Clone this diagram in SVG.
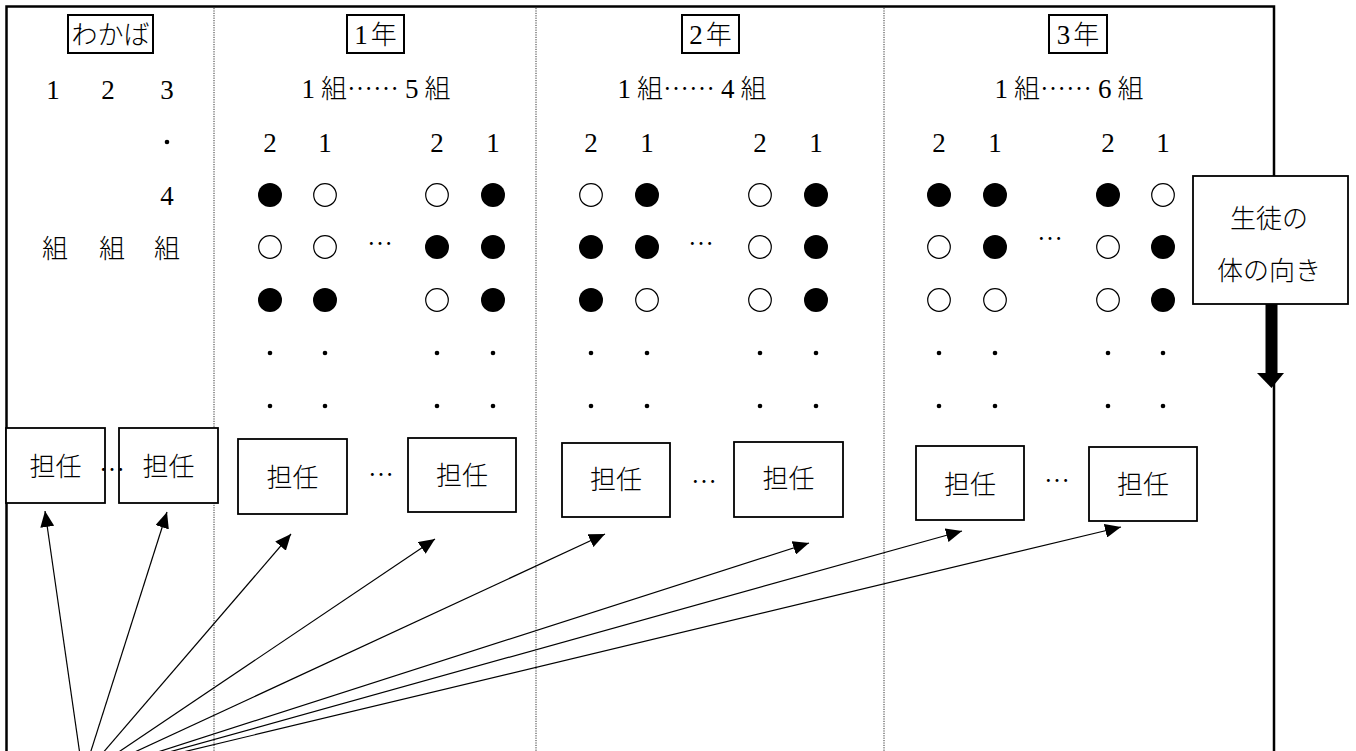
<svg xmlns="http://www.w3.org/2000/svg" width="1356" height="751" viewBox="0 0 1356 751">
<style>
.j{font-family:"Noto Sans CJK JP","Noto Sans",sans-serif;font-size:26px;font-weight:300;fill:#000}
.d{font-family:"Liberation Serif",serif;font-size:27px;fill:#000}
.box{fill:#fff;stroke:#000;stroke-width:1.8}
.hbox{fill:#fff;stroke:#000;stroke-width:2}
.frame{stroke:#000;stroke-width:2.5;fill:none}
.sep{stroke:#333;stroke-width:1;stroke-dasharray:1.2 1.2;fill:none}
.f{fill:#000}
.o{fill:#fff;stroke:#000;stroke-width:1.2}
.arr{stroke:#000;stroke-width:1.2;fill:none;marker-end:url(#ah)}
</style>
<defs>
<marker id="ah" viewBox="0 0 16 14" markerWidth="16" markerHeight="14" refX="16" refY="7" orient="auto" markerUnits="userSpaceOnUse">
<path d="M0,0 L16,7 L0,14 Z" fill="#000"/>
</marker>
</defs>
<rect width="1356" height="751" fill="#fff"/>
<g id="frame">
<path class="frame" d="M6.5,751 V6.5 H1274 V751"/>
<line class="sep" x1="214" y1="8" x2="214" y2="751"/>
<line class="sep" x1="536" y1="8" x2="536" y2="751"/>
<line class="sep" x1="884" y1="8" x2="884" y2="751"/>
</g>
<g id="headers">
<g id="h-wakaba"><rect class="hbox" x="68" y="15" width="85" height="38"/><text class="j" x="110.5" y="44" text-anchor="middle">わかば</text></g>
<g id="h-1nen"><rect class="hbox" x="347" y="15" width="57" height="38"/><text x="375.5" y="44" text-anchor="middle"><tspan class="d">1</tspan><tspan class="j" dx="3">年</tspan></text></g>
<g id="h-2nen"><rect class="hbox" x="682" y="15" width="57" height="38"/><text x="710.5" y="44" text-anchor="middle"><tspan class="d">2</tspan><tspan class="j" dx="3">年</tspan></text></g>
<g id="h-3nen"><rect class="hbox" x="1049" y="15" width="58" height="38"/><text x="1078" y="44" text-anchor="middle"><tspan class="d">3</tspan><tspan class="j" dx="3">年</tspan></text></g>
</g>
<g id="class-labels">
<text x="376" y="98" text-anchor="middle"><tspan class="d">1</tspan><tspan class="j" dx="6">組……</tspan><tspan class="d" dx="6">5</tspan><tspan class="j" dx="6">組</tspan></text>
<text x="692" y="98" text-anchor="middle"><tspan class="d">1</tspan><tspan class="j" dx="6">組……</tspan><tspan class="d" dx="6">4</tspan><tspan class="j" dx="6">組</tspan></text>
<text x="1069" y="98" text-anchor="middle"><tspan class="d">1</tspan><tspan class="j" dx="6">組……</tspan><tspan class="d" dx="6">6</tspan><tspan class="j" dx="6">組</tspan></text>
</g>
<g id="wakaba-col">
<text class="d" x="53" y="99" text-anchor="middle">1</text>
<text class="d" x="108" y="99" text-anchor="middle">2</text>
<text class="d" x="167" y="99" text-anchor="middle">3</text>
<circle class="f" cx="167" cy="142" r="2.3"/>
<text class="d" x="167" y="205" text-anchor="middle">4</text>
<text class="j" x="55" y="258" text-anchor="middle">組</text>
<text class="j" x="112" y="258" text-anchor="middle">組</text>
<text class="j" x="167" y="258" text-anchor="middle">組</text>
</g>
<g id="seat-numbers">
<text class="d" x="270" y="152" text-anchor="middle">2</text><text class="d" x="325" y="152" text-anchor="middle">1</text>
<text class="d" x="437" y="152" text-anchor="middle">2</text><text class="d" x="493" y="152" text-anchor="middle">1</text>
<text class="d" x="591" y="152" text-anchor="middle">2</text><text class="d" x="647" y="152" text-anchor="middle">1</text>
<text class="d" x="760" y="152" text-anchor="middle">2</text><text class="d" x="816" y="152" text-anchor="middle">1</text>
<text class="d" x="939" y="152" text-anchor="middle">2</text><text class="d" x="995" y="152" text-anchor="middle">1</text>
<text class="d" x="1108" y="152" text-anchor="middle">2</text><text class="d" x="1163" y="152" text-anchor="middle">1</text>
</g>
<g id="seats-1nen">
<circle class="f" cx="270" cy="195" r="12"/><circle class="o" cx="325" cy="195" r="11.3"/><circle class="o" cx="437" cy="195" r="11.3"/><circle class="f" cx="493" cy="195" r="12"/>
<circle class="o" cx="270" cy="247" r="11.3"/><circle class="o" cx="325" cy="247" r="11.3"/><circle class="f" cx="437" cy="247" r="12"/><circle class="f" cx="493" cy="247" r="12"/>
<circle class="f" cx="270" cy="300" r="12"/><circle class="f" cx="325" cy="300" r="12"/><circle class="o" cx="437" cy="300" r="11.3"/><circle class="f" cx="493" cy="300" r="12"/>
<text class="j" x="380" y="253" text-anchor="middle">…</text>
</g>
<g id="seats-2nen">
<circle class="o" cx="591" cy="195" r="11.3"/><circle class="f" cx="647" cy="195" r="12"/><circle class="o" cx="760" cy="195" r="11.3"/><circle class="f" cx="816" cy="195" r="12"/>
<circle class="f" cx="591" cy="247" r="12"/><circle class="f" cx="647" cy="247" r="12"/><circle class="o" cx="760" cy="247" r="11.3"/><circle class="f" cx="816" cy="247" r="12"/>
<circle class="f" cx="591" cy="300" r="12"/><circle class="o" cx="647" cy="300" r="11.3"/><circle class="o" cx="760" cy="300" r="11.3"/><circle class="f" cx="816" cy="300" r="12"/>
<text class="j" x="701" y="253" text-anchor="middle">…</text>
</g>
<g id="seats-3nen">
<circle class="f" cx="939" cy="195" r="12"/><circle class="f" cx="995" cy="195" r="12"/><circle class="f" cx="1108" cy="195" r="12"/><circle class="o" cx="1163" cy="195" r="11.3"/>
<circle class="o" cx="939" cy="247" r="11.3"/><circle class="f" cx="995" cy="247" r="12"/><circle class="o" cx="1108" cy="247" r="11.3"/><circle class="f" cx="1163" cy="247" r="12"/>
<circle class="o" cx="939" cy="300" r="11.3"/><circle class="o" cx="995" cy="300" r="11.3"/><circle class="o" cx="1108" cy="300" r="11.3"/><circle class="f" cx="1163" cy="300" r="12"/>
<text class="j" x="1050" y="248" text-anchor="middle">…</text>
</g>
<g id="dots">
<g id="dots-r1">
<circle class="f" cx="270" cy="353" r="2.3"/><circle class="f" cx="325" cy="353" r="2.3"/><circle class="f" cx="437" cy="353" r="2.3"/><circle class="f" cx="493" cy="353" r="2.3"/>
<circle class="f" cx="591" cy="353" r="2.3"/><circle class="f" cx="647" cy="353" r="2.3"/><circle class="f" cx="760" cy="353" r="2.3"/><circle class="f" cx="816" cy="353" r="2.3"/>
<circle class="f" cx="939" cy="353" r="2.3"/><circle class="f" cx="995" cy="353" r="2.3"/><circle class="f" cx="1108" cy="353" r="2.3"/><circle class="f" cx="1163" cy="353" r="2.3"/>
</g>
<g id="dots-r2">
<circle class="f" cx="270" cy="406" r="2.3"/><circle class="f" cx="325" cy="406" r="2.3"/><circle class="f" cx="437" cy="406" r="2.3"/><circle class="f" cx="493" cy="406" r="2.3"/>
<circle class="f" cx="591" cy="406" r="2.3"/><circle class="f" cx="647" cy="406" r="2.3"/><circle class="f" cx="760" cy="406" r="2.3"/><circle class="f" cx="816" cy="406" r="2.3"/>
<circle class="f" cx="939" cy="406" r="2.3"/><circle class="f" cx="995" cy="406" r="2.3"/><circle class="f" cx="1108" cy="406" r="2.3"/><circle class="f" cx="1163" cy="406" r="2.3"/>
</g>
</g>
<g id="connectors">
<line class="arr" x1="83" y1="776" x2="45" y2="511"/>
<line class="arr" x1="83" y1="776" x2="167" y2="512"/>
<line class="arr" x1="83" y1="776" x2="291" y2="534"/>
<line class="arr" x1="83" y1="776" x2="435" y2="539"/>
<line class="arr" x1="83" y1="776" x2="605" y2="534"/>
<line class="arr" x1="83" y1="776" x2="809" y2="543"/>
<line class="arr" x1="83" y1="776" x2="962" y2="531"/>
<line class="arr" x1="83" y1="776" x2="1121" y2="527"/>
</g>
<g id="t-wakaba-1"><rect class="box" x="6" y="428" width="99" height="75"/><text class="j" x="55.5" y="476" text-anchor="middle">担任</text></g>
<g id="t-wakaba-2"><rect class="box" x="119" y="428" width="99" height="75"/><text class="j" x="168.5" y="476" text-anchor="middle">担任</text></g>
<text class="j" x="112" y="479" text-anchor="middle">…</text>
<g id="t-1nen-1"><rect class="box" x="238" y="439" width="109" height="75"/><text class="j" x="292.5" y="487" text-anchor="middle">担任</text></g>
<g id="t-1nen-2"><rect class="box" x="408" y="438" width="108" height="74"/><text class="j" x="462" y="485" text-anchor="middle">担任</text></g>
<text class="j" x="381" y="484" text-anchor="middle">…</text>
<g id="t-2nen-1"><rect class="box" x="562" y="443" width="108" height="74"/><text class="j" x="616" y="489" text-anchor="middle">担任</text></g>
<g id="t-2nen-2"><rect class="box" x="734" y="442" width="109" height="75"/><text class="j" x="788.5" y="488" text-anchor="middle">担任</text></g>
<text class="j" x="704" y="491" text-anchor="middle">…</text>
<g id="t-3nen-1"><rect class="box" x="916" y="446" width="108" height="74"/><text class="j" x="970" y="494" text-anchor="middle">担任</text></g>
<g id="t-3nen-2"><rect class="box" x="1089" y="447" width="108" height="74"/><text class="j" x="1143" y="494" text-anchor="middle">担任</text></g>
<text class="j" x="1057" y="490" text-anchor="middle">…</text>
<g id="direction">
<rect class="box" x="1193" y="176" width="155" height="128"/>
<text class="j" x="1269" y="228" text-anchor="middle">生徒の</text>
<text class="j" x="1269" y="280" text-anchor="middle">体の向き</text>
<rect x="1265.5" y="304" width="12" height="70" fill="#000"/>
<path d="M1257,373 L1284,373 L1271.5,388 Z" fill="#000"/>
</g>
</svg>
